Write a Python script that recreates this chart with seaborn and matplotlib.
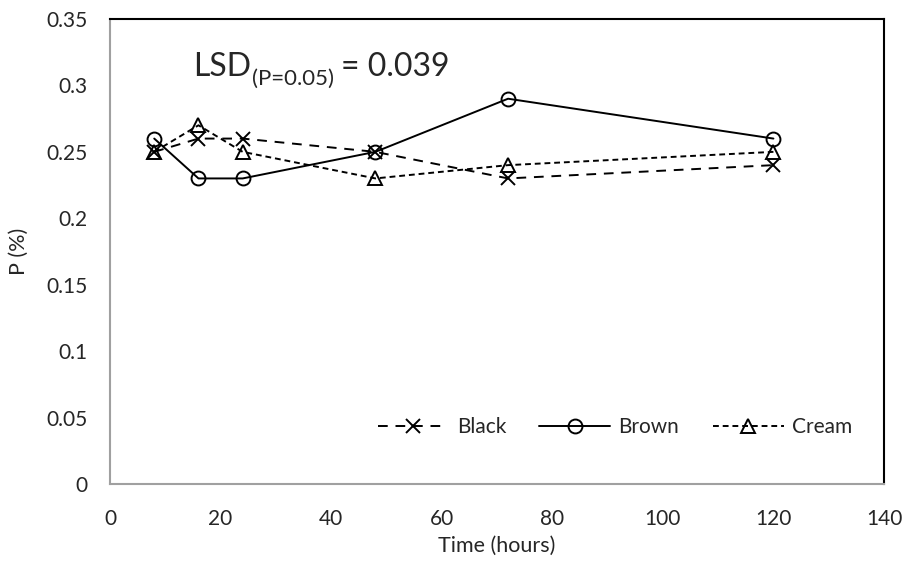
import matplotlib
matplotlib.use("Agg")
import matplotlib.pyplot as plt
import seaborn as sns
import pandas as pd
from matplotlib.transforms import offset_copy

hours = [8, 16, 24, 48, 72, 120]
black = [0.25, 0.26, 0.26, 0.25, 0.23, 0.24]
brown = [0.26, 0.23, 0.23, 0.25, 0.29, 0.26]
cream = [0.25, 0.27, 0.25, 0.23, 0.24, 0.25]
series_names = ["Black", "Brown", "Cream"]
x_ticks = [0, 20, 40, 60, 80, 100, 120, 140]
y_ticks = [0, 0.05, 0.1, 0.15, 0.2, 0.25, 0.3, 0.35]
y_tick_labels = ["0", "0.05", "0.1", "0.15", "0.2", "0.25", "0.3", "0.35"]

sns.set_style("white")
plt.rcParams['font.family'] = ['Lato', 'DejaVu Sans']

fig = plt.figure(figsize=(9.05, 5.62), dpi=100)
ax = fig.add_axes([110/905, 1-484/562, (884-110)/905, (484-19)/562])

styles = {
    "Black": dict(marker='x', linestyle=(0, (5, 4)), markersize=10),
    "Brown": dict(marker='o', linestyle='-', markersize=10),
    "Cream": dict(marker='^', linestyle=(0, (3, 2)), markersize=10),
}
for name, vals in zip(series_names, [black, brown, cream]):
    df = pd.DataFrame({"Time": hours, "P": vals})
    st = styles[name]
    sns.lineplot(data=df, x="Time", y="P", ax=ax, color='black', linewidth=1.4,
                 marker=st['marker'], linestyle=st['linestyle'], markersize=st['markersize'],
                 markerfacecolor='none', markeredgecolor='black', markeredgewidth=1.4,
                 label=name)

ax.set_xlim(0, 140)
ax.set_ylim(0, 0.35)
ax.set_xticks(x_ticks)
ax.set_xticklabels([str(t) for t in x_ticks])
ax.set_yticks(y_ticks)
ax.set_yticklabels(y_tick_labels)
ax.tick_params(axis='x', labelsize=15, length=0, pad=18)
ax.tick_params(axis='y', labelsize=15, length=0, pad=16)
ax.set_xlabel("Time (hours)", fontsize=15.5, labelpad=5)
ax.set_ylabel("P (%)", fontsize=15.5, labelpad=13)

for side in ['top', 'right']:
    ax.spines[side].set_color('black')
    ax.spines[side].set_linewidth(1.5)
for side in ['left', 'bottom']:
    ax.spines[side].set_color('#a0a0a0')
    ax.spines[side].set_linewidth(1.5)

# LSD annotation: main text, subscript, then value
renderer = fig.canvas.get_renderer()
lsd_x, lsd_y = 15, 0.307
t1 = ax.text(lsd_x, lsd_y, 'LSD', fontsize=23, va='baseline', ha='left')
w1 = t1.get_window_extent(renderer).width * 72 / fig.dpi
tr2 = offset_copy(ax.transData, fig=fig, x=w1 + 1, y=-6, units='points')
t2 = ax.text(lsd_x, lsd_y, '(P=0.05)', fontsize=16, va='baseline', ha='left', transform=tr2)
w2 = t2.get_window_extent(renderer).width * 72 / fig.dpi
tr3 = offset_copy(ax.transData, fig=fig, x=w1 + w2 + 6, y=0, units='points')
ax.text(lsd_x, lsd_y, '= 0.039', fontsize=23, va='baseline', ha='left', transform=tr3)

leg = ax.legend(loc='lower right', bbox_to_anchor=(0.983, 0.06), ncol=3, frameon=False,
                prop={'size': 15}, handlelength=3.4, columnspacing=1.6, handletextpad=0.4,
                numpoints=1)

fig.savefig("out.png", dpi=100)
